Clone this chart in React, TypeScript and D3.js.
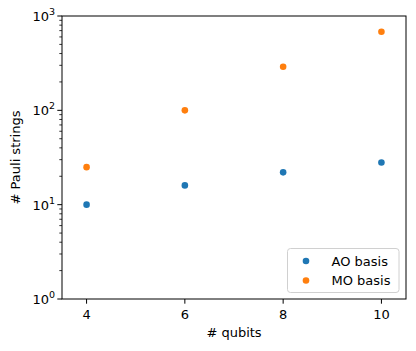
import React from "react";
import * as d3 from "d3";

const qubits = [4, 6, 8, 10];
const aoBasis = [10, 16, 22, 28];
const moBasis = [25, 100, 290, 680];
const xTicks = [4, 6, 8, 10];
const yDecades = [0, 1, 2, 3];

const series = [
  { name: "AO basis", values: aoBasis, color: "#1f77b4" },
  { name: "MO basis", values: moBasis, color: "#ff7f0e" },
];

const W = 416;
const H = 351;
const margin = { top: 16, right: 10, bottom: 52, left: 62 };
const font = "DejaVu Sans, sans-serif";

export default function App() {
  const x = d3.scaleLinear().domain([3.5, 10.5]).range([margin.left, W - margin.right]);
  const y = d3.scaleLog().domain([1, 1000]).range([H - margin.bottom, margin.top]);

  const minor: number[] = [];
  for (const d of [0, 1, 2]) {
    for (let k = 2; k <= 9; k++) minor.push(k * Math.pow(10, d));
  }

  const x0 = margin.left;
  const y0 = H - margin.bottom;

  return (
    <div style={{ position: "absolute", left: 0, top: 0 }}>
      <svg width={W} height={H} style={{ display: "block", background: "#fff" }} fontFamily={font}>
        {/* minor y ticks */}
        {minor.map((v) => (
          <line key={"m" + v} x1={x0} x2={x0 - 2.7} y1={y(v)} y2={y(v)} stroke="#000" strokeWidth={0.8} />
        ))}
        {/* major y ticks */}
        {yDecades.map((d) => {
          const yy = y(Math.pow(10, d));
          return (
            <g key={"y" + d}>
              <line x1={x0} x2={x0 - 4.7} y1={yy} y2={yy} stroke="#000" strokeWidth={1} />
              <text x={x0 - 7} y={yy + 5} textAnchor="end" fontSize={13} fill="#000">
                10
                <tspan dy={-6} fontSize={9.5}>{d}</tspan>
              </text>
            </g>
          );
        })}
        {/* x ticks */}
        {xTicks.map((t) => (
          <g key={"x" + t}>
            <line x1={x(t)} x2={x(t)} y1={y0} y2={y0 + 4.7} stroke="#000" strokeWidth={1} />
            <text x={x(t)} y={y0 + 20} textAnchor="middle" fontSize={13} fill="#000">
              {t}
            </text>
          </g>
        ))}
        {/* points */}
        {series.map((s) =>
          s.values.map((v, i) => (
            <circle key={s.name + i} cx={x(qubits[i])} cy={y(v)} r={3.3} fill={s.color} />
          ))
        )}
        {/* frame */}
        <rect
          x={x0}
          y={margin.top}
          width={W - margin.right - x0}
          height={y0 - margin.top}
          fill="none"
          stroke="#000"
          strokeWidth={1}
        />
        {/* axis labels */}
        <text x={(x0 + W - margin.right) / 2} y={H - 14} textAnchor="middle" fontSize={13} fill="#000">
          # qubits
        </text>
        <text
          transform={`translate(20,${(margin.top + y0) / 2}) rotate(-90)`}
          textAnchor="middle"
          fontSize={13}
          fill="#000"
        >
          # Pauli strings
        </text>
        {/* legend */}
        <g>
          <rect x={287.5} y={248.5} width={111.5} height={44} rx={3} fill="#fff" fillOpacity={0.8} stroke="#d0d0d0" strokeWidth={1} />
          {series.map((s, i) => (
            <g key={"l" + s.name}>
              <circle cx={306} cy={261 + i * 19.5} r={3.3} fill={s.color} />
              <text x={331.5} y={265.5 + i * 19.5} fontSize={13} fill="#000">
                {s.name}
              </text>
            </g>
          ))}
        </g>
      </svg>
    </div>
  );
}
